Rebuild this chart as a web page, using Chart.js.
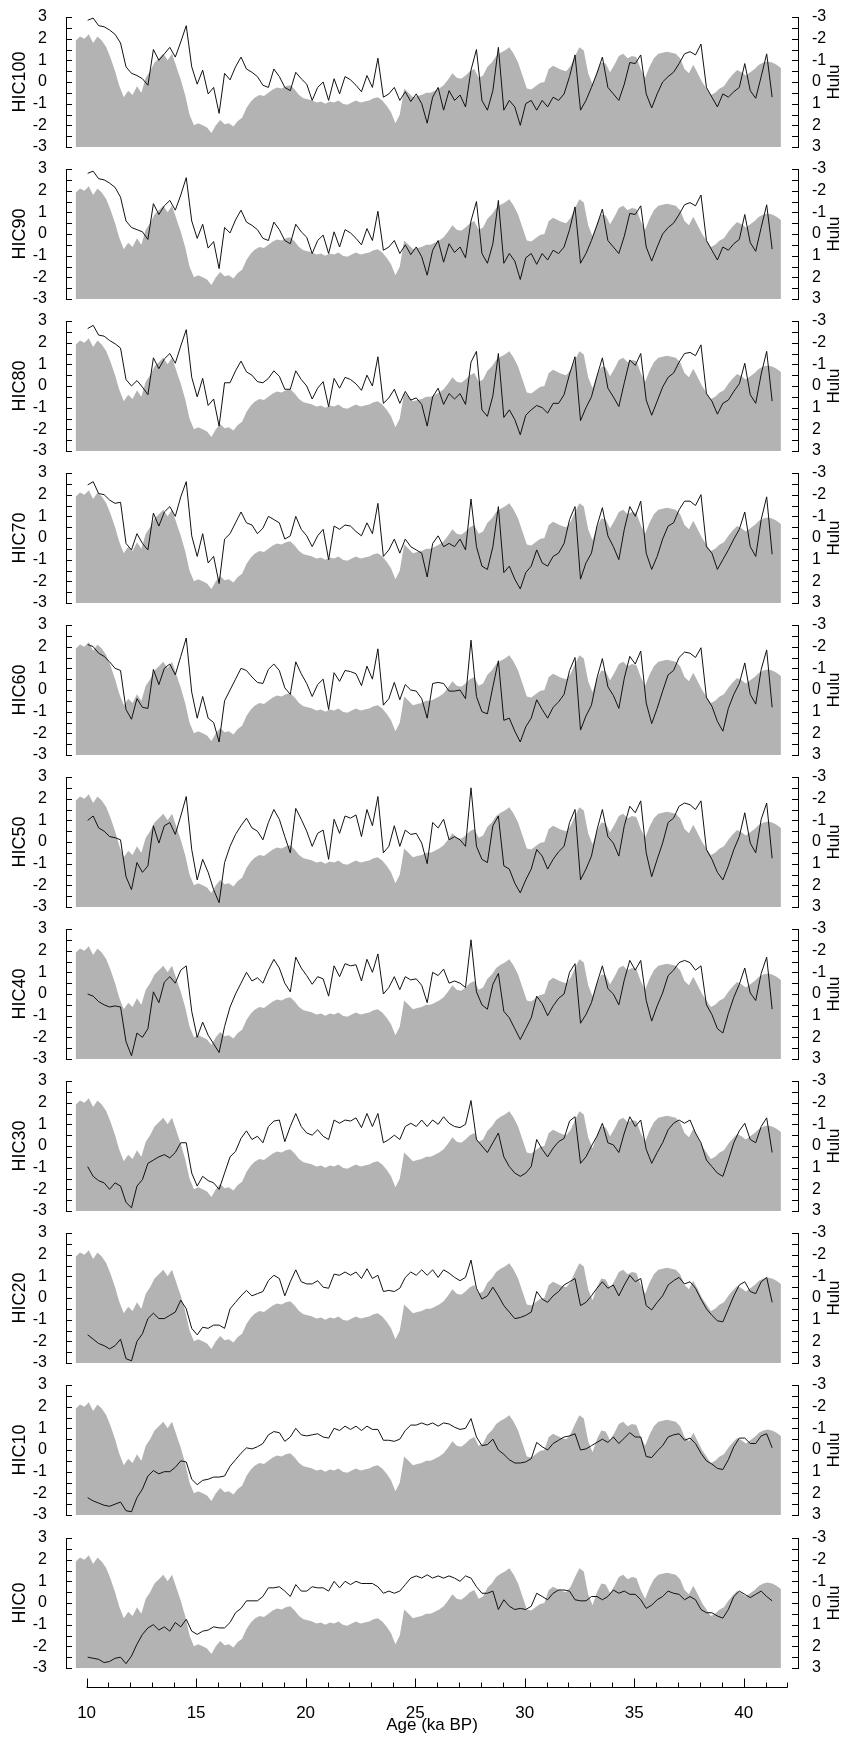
<!DOCTYPE html>
<html lang="en">
<head>
<meta charset="UTF-8" />
<title>HIC runs against Hulu</title>
<script src="https://cdn.jsdelivr.net/npm/chart.js"></script>
<style>
  body { margin: 0; background: #fff; }
  #panels { position: relative; width: 844px; height: 1738px; }
  #panels canvas { position: absolute; left: 0; }
</style>
</head>
<body>
<div id="panels"></div>
<script>
// Hulu record (right axis, reversed), one value every 0.2 ka from 9.5 ka
const huluStart = 9.5, huluStep = 0.2;
const hulu = [
  -1.9, -2.1, -2.0, -2.2, -1.8, -2.1, -1.9, -1.6, -1.1, -0.5,
  0.2, 0.7, 0.4, 0.6, 0.2, 0.5, -0.2, -0.5, -0.9, -1.1,
  -1.3, -1.0, -1.3, -0.7, -0.1, 0.6, 1.5, 2.0, 1.9, 2.0,
  2.1, 2.35, 2.0, 1.75, 1.95, 1.9, 2.05, 1.8, 1.65, 1.2,
  0.9, 0.7, 0.6, 0.65, 0.5, 0.35, 0.25, 0.3, 0.2, 0.15,
  0.35, 0.6, 0.75, 0.8, 0.85, 0.95, 0.9, 1.0, 0.9, 0.95,
  0.85, 1.0, 1.05, 0.95, 0.85, 0.95, 0.9, 0.85, 0.75, 0.7,
  0.85, 1.1, 1.4, 1.9, 1.5, 0.3, 0.5, 0.7, 0.65, 0.6,
  0.5, 0.5, 0.4, 0.3, 0.15, -0.1, -0.4, -0.2, -0.15, -0.3,
  -0.5, -0.6, -0.2, -0.3, -0.7, -0.9, -1.2, -1.35, -1.45, -1.6,
  -1.3, -0.9, -0.3, 0.3, 0.35, 0.2, 0.05, 0, -0.6, -0.75,
  -0.65, -0.55, -0.5, -0.75, -1.2, -1.6, -1.45, -0.4, 0.1, -0.5,
  -0.9, -0.85, -0.45, -0.8, -1.2, -1.3, -1.1, -1.2, -1.15, -0.6,
  -0.2, -0.7, -1.1, -1.3, -1.35, -1.4, -1.35, -1.3, -1.1, -0.6,
  -0.4, -0.8, -0.4, 0, 0.3, 0.6, 0.5, 0.3, 0.2, -0.1,
  -0.35, -0.55, -0.45, -0.3, -0.45, -0.6, -0.8, -0.9, -0.95, -0.9,
  -0.8, -0.65
];

// HIC runs (left axis), one value every 0.25 ka from 10.05 ka
const hicStart = 10.05, hicStep = 0.25;
const hic100 = [
  2.85, 2.95, 2.6, 2.55,   2.4, 2.2, 1.8, 0.7,   0.4, 0.3, 0.15, -0.15,
  1.5, 1.0, 1.3, 1.6,      1.15, 1.85, 2.6, 0.7, -0.1, 0.55, -0.55, -0.25,
  -1.45, 0.4, 0.1, 0.7,    1.15, 0.6, 0.45, 0.25, -0.15, -0.25, 0.6, 0.25,
  -0.25, -0.4, 0.45, 0.15, -0.1, -0.85, -0.25, 0, -0.85, 0.15, -0.55, 0.25,
  0.1, -0.15, -0.45, 0.3,  -0.25, 1.1, -0.7, -0.55, -0.25, -0.85, -0.45, -0.9,
  -0.55, -1.0, -1.9, -0.7, -0.25, -1.3, -0.4, -0.85, -0.6, -1.15, 0.55, 1.5,
  -0.85, -1.3, -0.4, 1.6, -1.3, -0.85, -1.15, -2.0, -1.0, -0.85, -1.3, -0.85,
  -1.15, -0.7, -0.85, -0.55, 0.25, 1.25, -1.3, -0.85, -0.25, 0.4, 1.15, -0.25,
  -0.55, -0.85, -0.1, 0.9, 0.85, 1.25, -0.55, -1.2, -0.55, 0, 0.25, 0.45,
  0.85, 1.3, 1.4, 1.25,    1.75, -0.25, -0.7, -1.15, -0.55, -0.7, -0.45, -0.25,
  0.85, -0.4, -0.75, 0.25, 1.3, -0.7
];
const hic90 = [
  2.8, 2.9, 2.55, 2.5,     2.35, 2.15, 1.7, 0.6,  0.3, 0.2, 0.1, -0.25,
  1.4, 0.9, 1.3, 1.55,     1.1, 1.8, 2.6, 0.6,    -0.2, 0.45, -0.65, -0.35,
  -1.6, 0.3, 0.05, 0.65,   1.1, 0.55, 0.4, 0.2,   -0.2, -0.3, 0.55, 0.2,
  -0.3, -0.45, 0.45, 0.1,  -0.15, -0.9, -0.3, -0.05, -0.9, 0.1, -0.6, 0.2,
  0.05, -0.2, -0.5, 0.25,  -0.3, 1.05, -0.75, -0.6, -0.3, -0.9, -0.5, -0.95,
  -0.6, -1.05, -1.9, -0.75, -0.3, -1.3, -0.45, -0.85, -0.6, -1.1, 0.6, 1.5,
  -0.9, -1.35, -0.45, 1.55, -1.35, -0.9, -1.25, -2.1, -1.1, -0.9, -1.4, -0.9,
  -1.2, -0.75, -0.9, -0.6, 0.2, 1.25, -1.35, -0.9, -0.3, 0.4, 1.15, -0.3,
  -0.6, -0.9, -0.1, 0.95, 0.9, 1.3, -0.6, -1.25,  -0.6, 0, 0.3, 0.5,
  0.9, 1.35, 1.45, 1.3,    1.8, -0.3, -0.75, -1.2, -0.6, -0.75, -0.45, -0.25,
  0.9, -0.4, -0.8, 0.3,    1.35, -0.7
];
const hic80 = [
  2.65, 2.8, 2.35, 2.3,    2.1, 1.95, 1.75, 0.3,  0, 0.25, -0.05, -0.4,
  1.3, 0.8, 1.25, 1.5,     1.05, 1.85, 2.6, 0.4,  -0.5, 0.35, -0.9, -0.6,
  -1.85, 0.15, 0.15, 0.7,  1.15, 0.65, 0.5, 0.2,  0.15, 0.35, 0.7, 0.45,
  -0.15, -0.15, 0.7, 0.3,  0, -0.6, -0.1, 0.2,    -0.95, 0.35, -0.1, 0.4,
  0.3, 0.1, -0.2, 0.5,     0, 1.35, -0.8, -0.55,  -0.15, -0.8, -0.25, -0.65,
  -0.55, -0.85, -1.85, -0.5, -0.1, -0.85, -0.35, -0.6, -0.35, -0.85, 1.1, 1.6,
  -1.1, -1.4, -0.45, 1.5,  -1.45, -1.1, -1.55, -2.25, -1.35, -1.1, -0.9, -1.0,
  -1.25, -0.8, -0.8, -0.4, 0.55, 1.35, -1.6, -1.0, -0.5, 0.45, 1.3, -0.1,
  -0.5, -0.95, 0.15, 1.2,  0.95, 1.5, -0.65, -1.35, -0.7, -0.05, 0.4, 0.6,
  1.1, 1.5, 1.55, 1.4,     1.9, -0.35, -0.7, -1.3, -0.8, -0.65, -0.25, 0.1,
  1.05, -0.4, -0.8, 0.55,  1.6, -0.7
];
const hic70 = [
  2.45, 2.6, 2.05, 2.0,    1.75, 1.6, 1.65, -0.25, -0.55, 0.2, -0.25, -0.55,
  1.15, 0.55, 1.2, 1.45,   1.0, 1.9, 2.6, 0.1,    -0.85, 0.2, -1.15, -0.85,
  -2.1, -0.05, 0.2, 0.7,   1.2, 0.7, 0.6, 0.2,    0.45, 1.0, 0.85, 0.7,
  -0.05, 0.1, 1.0, 0.4,    0.1, -0.4, 0.1, 0.4,   -1.0, 0.55, 0.4, 0.6,
  0.55, 0.3, 0.1, 0.7,     0.2, 1.6, -0.85, -0.55, -0.05, -0.7, -0.05, -0.4,
  -0.55, -0.7, -1.8, -0.25, 0.1, -0.4, -0.25, -0.4, -0.05, -0.55, 1.8, -0.4,
  -1.3, -1.45, -0.4, 1.45, -1.6, -1.3, -1.9, -2.35, -1.6, -1.3, -0.55, -1.15,
  -1.3, -0.85, -0.7, -0.25, 0.85, 1.45, -1.9, -1.15, -0.7, 0.55, 1.4, 0.1,
  -0.4, -1.0, 0.4, 1.45,   1.0, 1.7, -0.7, -1.45, -0.85, -0.05, 0.55, 0.7,
  1.3, 1.7, 1.7, 1.5,      2.0, -0.4, -0.7, -1.45, -1.0, -0.55, -0.05, 0.4,
  1.2, -0.4, -0.85, 0.85,  1.9, -0.75
];
const hic60 = [
  2.1, 2.0, 1.7, 1.55,     1.3, 1.0, 0.9, -0.9,   -1.35, -0.4, -0.8, -0.85,
  0.95, 0.25, 1.0, 1.2,    0.7, 1.55, 2.4, -0.1,  -1.3, -0.3, -1.3, -1.5,
  -2.4, -0.5, 0, 0.5,      1.0, 0.9, 0.6, 0.35,   0.3, 0.95, 1.2, 0.9,
  0.1, -0.2, 1.3, 0.75,    0.3, -0.3, 0.25, 0.5,  -0.9, 0.8, 0.4, 0.9,
  0.85, 0.75, 0.2, 1.1,    0.5, 1.9, -0.7, -0.4,  0.35, -0.45, 0.25, 0,
  -0.05, -0.4, -1.3, 0.3,  0.35, 0.3, -0.05, -0.05, 0, -0.4, 2.3, -0.3,
  -1.0, -1.1, 0.15, 1.35,  -1.4, -1.3, -1.9, -2.4, -1.7, -1.3, -0.45, -0.9,
  -1.3, -0.8, -0.55, -0.2, 0.9, 1.5, -1.85, -1.2, -0.7, 0.55, 1.45, 0.15,
  -0.25, -0.85, 0.55, 1.55, 1.2, 1.8, -0.6, -1.55, -0.85, -0.05, 0.7, 0.9,
  1.5, 1.75, 1.7, 1.5,     1.95, -0.35, -0.75, -1.45, -1.9, -0.85, -0.2, 0.3,
  1.25, -0.2, -0.65, 0.95, 1.85, -0.8
];
const hic50 = [
  1.0, 1.2, 0.65, 0.5,     0.25, 0.2, 0.1, -1.6,  -2.2, -0.95, -1.4, -1.1,
  0.75, -0.05, 0.75, 0.9,  0.35, 1.2, 2.1, -0.35, -1.75, -0.8, -1.4, -2.2,
  -2.8, -0.95, -0.2, 0.35, 0.75, 1.1, 0.65, 0.5,  0.1, 0.9, 1.5, 1.05,
  0.25, -0.5, 1.55, 1.05,  0.5, -0.2, 0.4, 0.55,  -0.8, 1.05, 0.4, 1.2,
  1.1, 1.25, 0.25, 1.5,    0.75, 2.1, -0.5, -0.2, 0.75, -0.2, 0.55, 0.35,
  0.4, -0.05, -1.0, 0.9,   0.65, 1.05, 0.1, 0.25, 0.1, -0.2, 2.5, -0.2,
  -0.8, -0.95, 0.75, 1.2,  -1.1, -1.25, -1.9, -2.35, -1.75, -1.25, -0.35, -0.65,
  -1.25, -0.8, -0.45, -0.2, 0.9, 1.5, -1.75, -1.25, -0.65, 0.55, 1.5, 0.25,
  -0.05, -0.65, 0.75, 1.65, 1.35, 1.9, -0.5, -1.6, -0.8, -0.05, 0.9, 1.1,
  1.65, 1.8, 1.72, 1.5,    1.9, -0.35, -0.8, -1.4, -1.75, -1.1, -0.35, 0.25,
  1.35, -0.05, -0.5, 1.05, 1.8, -0.75
];
const hic40 = [
  0, -0.1, -0.35, -0.5,    -0.6, -0.55, -0.6, -2.2, -2.85, -1.8, -2.0, -1.6,
  0.1, -0.4, 0.55, 0.8,    0.5, 1.1, 1.3, -0.8,   -2.0, -1.3, -1.9, -2.3,
  -2.7, -1.5, -0.6, 0,     0.5, 1.0, 0.6, 0.75,   0.5, 1.1, 1.6, 1.2,
  0.5, 0.1, 1.7, 1.2,      0.85, 0.45, 0.8, 0.7,  -0.1, 1.3, 0.8, 1.4,
  1.3, 1.35, 0.6, 1.6,     1.0, 1.85, 0, 0.3,     0.8, 0.2, 0.8, 0.65,
  0.7, 0.4, -0.4, 1.0,     0.85, 1.15, 0.5, 0.6,  0.5, 0.3, 2.5, 0.1,
  -0.5, -0.7, 0.45, 0.95,  -0.8, -1.1, -1.6, -2.1, -1.6, -1.1, -0.1, -0.45,
  -1.0, -0.55, -0.2, 0,    1.0, 1.4, -1.35, -0.95, -0.4, 0.5, 1.3, 0.25,
  0, -0.5, 0.65, 1.55,     1.1, 1.55, -0.3, -1.25, -0.55, 0.05, 0.85, 1.1,
  1.45, 1.55, 1.45, 1.1,   1.3, -0.5, -0.95, -1.6, -1.8, -0.9, -0.15, 0.45,
  1.2, 0.05, -0.3, 0.95,   1.7, -0.7
];
const hic30 = [
  -0.95, -1.4, -1.6, -1.7, -2.0, -1.7, -1.85, -2.6, -2.85, -1.85, -1.55, -0.8,
  -0.65, -0.5, -0.4, -0.55, -0.3, 0.15, 0.15, -1.25, -1.85, -1.4, -1.6, -1.7,
  -2.0, -1.25, -0.5, -0.25, 0.35, 0.7, 0.3, 0.45, 0.15, 0.9, 1.15, 1.2,
  0.2, 0.9, 1.5, 0.9,      0.6, 0.5, 0.75, 0.45,  0.3, 1.2, 1.05, 1.2,
  1.15, 1.3, 0.85, 1.5,    0.9, 1.5, 0.15, 0.3,   0.5, 0.3, 0.9, 1.05,
  0.9, 1.2, 0.9, 1.2,      1.0, 1.35, 1.05, 0.9,  0.85, 1.0, 2.1, 0.3,
  0, -0.3, 0.15, 0.6,      -0.5, -0.95, -1.25, -1.4, -1.25, -0.95, 0.3, -0.15,
  -0.5, -0.1, 0.2, 0.35,   1.15, 1.35, -0.8, -0.5, 0, 0.45, 1.05, 0.15,
  0.05, -0.3, 0.6, 1.35,   0.9, 1.2, -0.15, -0.8, -0.3, 0.15, 0.75, 1.05,
  1.2, 1.05, 1.2, 0.6,     0.15, -0.65, -0.95, -1.25, -1.4, -0.65, 0.15, 0.7,
  1.05, 0.3, 0.15, 0.9,    1.3, -0.3
];
const hic20 = [
  -1.7, -1.9, -2.1, -2.2,  -2.35, -2.2, -1.9, -2.8, -2.9, -2.0, -1.65, -0.95,
  -0.7, -0.95, -0.95, -0.8, -0.65, -0.1, -0.5, -1.4, -1.7, -1.35, -1.4, -1.25,
  -1.25, -1.4, -0.5, -0.2, 0.1, 0.35, 0.1, 0.2,   0.3, 0.8, 1.05, 0.9,
  0.1, 0.75, 1.3, 0.75,    0.65, 0.65, 0.8, 0.5,  0.45, 1.1, 1.05, 1.2,
  1.05, 1.2, 0.9, 1.35,    0.9, 1.05, 0.3, 0.35,  0.3, 0.45, 0.95, 1.2,
  1.05, 1.3, 1.05, 1.3,    0.95, 1.3, 1.15, 0.95, 0.8, 0.95, 1.75, 0.45,
  -0.05, 0.1, 0.5, 0.1,    -0.35, -0.65, -0.95, -0.9, -0.8, -0.65, 0.3, -0.05,
  -0.2, 0.1, 0.3, 0.6,     0.75, 0.9, -0.35, -0.2, 0.1, 0.45, 0.75, 0.45,
  0.6, 0.1, 0.6, 1.05,     0.75, 0.9, -0.35, -0.55, -0.2, 0.1, 0.6, 0.8,
  0.95, 0.65, 0.75, 0.45,  -0.05, -0.5, -0.8, -1.05, -1.1, -0.5, 0.1, 0.6,
  0.75, 0.3, 0.2, 0.75,    0.95, -0.2
];
const hic10 = [
  -2.2, -2.35, -2.45, -2.55, -2.6, -2.5, -2.4, -2.8, -2.85, -2.2, -1.8, -1.2,
  -0.95, -1.1, -1.0, -1.0, -0.8, -0.5, -0.55, -1.35, -1.6, -1.4, -1.35, -1.25,
  -1.25, -1.2, -0.75, -0.45, -0.15, 0.1, 0.05, 0.15, 0.3, 0.7, 0.85, 0.8,
  0.4, 0.6, 1.0, 0.7,      0.65, 0.7, 0.75, 0.6,  0.55, 1.0, 0.9, 1.1,
  0.95, 1.1, 0.9, 1.1,     0.95, 0.95, 0.45, 0.45, 0.4, 0.5, 0.9, 1.15,
  1.15, 1.25, 1.15, 1.25,  1.1, 1.25, 1.2, 1.05,  0.95, 1.0, 1.45, 0.6,
  0.2, 0.25, 0.5, 0,       -0.2, -0.45, -0.6, -0.6, -0.55, -0.4, 0.35, 0.15,
  0, 0.3, 0.45, 0.6,       0.65, 0.75, 0, 0.05,   0.2, 0.35, 0.5, 0.35,
  0.6, 0.3, 0.55, 0.8,     0.6, 0.6, -0.3, -0.35, -0.05, 0.2, 0.6, 0.7,
  0.75, 0.45, 0.55, 0.3,   -0.15, -0.5, -0.65, -0.85, -0.9, -0.45, 0.15, 0.55,
  0.55, 0.3, 0.3, 0.65,    0.75, 0.1
];
const hic0 = [
  -2.5, -2.55, -2.6, -2.75, -2.7, -2.55, -2.5, -2.8, -2.45, -1.9, -1.45, -1.15,
  -1.0, -1.25, -1.1, -1.3, -0.9, -1.1, -0.75, -1.3, -1.45, -1.3, -1.25, -1.1,
  -1.15, -1.15, -0.9, -0.45, -0.25, 0.1, 0.1, 0.1, 0.3, 0.7, 0.7, 0.75,
  0.55, 0.3, 0.85, 0.55,   0.55, 0.75, 0.7, 0.7,  0.55, 1.0, 0.7, 1.0,
  0.85, 1.0, 0.9, 0.9,     0.9, 0.75, 0.45, 0.55, 0.45, 0.55, 0.85, 1.15,
  1.25, 1.15, 1.3, 1.15,   1.25, 1.15, 1.25, 1.15, 1.0, 1.25, 1.15, 0.75,
  0.45, 0.45, 0.55, -0.3,  0.15, -0.15, -0.3, -0.25, -0.3, -0.15, 0.45, 0.3,
  0.15, 0.45, 0.6, 0.6,    0.55, 0.15, 0.1, 0.1,  0.3, 0.3, 0.15, 0.3,
  0.6, 0.45, 0.55, 0.4,    0.4, 0.15, -0.25, -0.1, 0.15, 0.3, 0.55, 0.45,
  0.4, 0.15, 0.3, 0.15,    -0.3, -0.45, -0.45, -0.6, -0.7, -0.3, 0.3, 0.55,
  0.4, 0.25, 0.4, 0.55,    0.3, 0.1
];

const panelNames = ['HIC100', 'HIC90', 'HIC80', 'HIC70', 'HIC60', 'HIC50',
                    'HIC40', 'HIC30', 'HIC20', 'HIC10', 'HIC0'];
const panelSeries = [hic100, hic90, hic80, hic70, hic60, hic50,
                     hic40, hic30, hic20, hic10, hic0];
const rightTitle = 'Hulu';

const valueTicks = [-3, -2, -1, 0, 1, 2, 3];
const valueMarkStep = 0.5;
const ageLabels = [10, 15, 20, 25, 30, 35, 40];
const ageAxisFrom = 10, ageAxisTo = 42;

const FONT = 'Liberation Sans, Arial, sans-serif';
const INK = '#000';
const SHADE = '#b3b3b3';

// tick marks that point into the gap between the axis line and the data,
// the right-hand title (read bottom to top, like the left one),
// and the detached age axis under the last panel
const axisMarks = {
  id: 'axisMarks',
  afterDraw(chart) {
    const ctx = chart.ctx;
    const area = chart.chartArea;
    const yl = chart.scales.y, yr = chart.scales.yr, xs = chart.scales.x;
    ctx.save();
    ctx.strokeStyle = INK;
    ctx.lineWidth = 1;
    ctx.beginPath();
    for (let v = yl.min; v <= yl.max + 1e-9; v += valueMarkStep) {
      const py = Math.round(yl.getPixelForValue(v)) + 0.5;
      ctx.moveTo(area.left, py);
      ctx.lineTo(area.left + 6, py);
      const pr = Math.round(yr.getPixelForValue(v)) + 0.5;
      ctx.moveTo(area.right, pr);
      ctx.lineTo(area.right - 6, pr);
    }
    ctx.stroke();

    ctx.save();
    ctx.translate(yr.right - 10, (area.top + area.bottom) / 2);
    ctx.rotate(-Math.PI / 2);
    ctx.fillStyle = INK;
    ctx.font = '17px ' + FONT;
    ctx.textAlign = 'center';
    ctx.textBaseline = 'middle';
    ctx.fillText(rightTitle, 0, 0);
    ctx.restore();

    if (chart.options.plugins.axisMarks.ageAxis) {
      const base = Math.round(area.bottom + 19) + 0.5;
      const x0 = xs.getPixelForValue(ageAxisFrom);
      const x1 = xs.getPixelForValue(ageAxisTo);
      ctx.beginPath();
      ctx.moveTo(x0, base);
      ctx.lineTo(x1, base);
      for (let a = ageAxisFrom; a <= ageAxisTo; a++) {
        const px = Math.round(xs.getPixelForValue(a)) + 0.5;
        ctx.moveTo(px, base);
        ctx.lineTo(px, base - (a % 5 === 0 ? 9 : 5));
      }
      ctx.stroke();
    }
    ctx.restore();
  }
};

const host = document.getElementById('panels');
const pitch = 152.1, firstTop = 16.6, plotHeight = 130, pad = 11;

panelSeries.forEach((series, k) => {
  const last = k === panelSeries.length - 1;
  const plotTop = Math.round(firstTop + k * pitch);
  const top = plotTop - pad;
  const height = last ? 1738 - top : plotHeight + 2 * pad;

  const canvas = document.createElement('canvas');
  canvas.width = 844;
  canvas.height = height;
  canvas.style.top = top + 'px';
  host.appendChild(canvas);

  new Chart(canvas.getContext('2d'), {
    type: 'line',
    data: {
      datasets: [
        {
          label: panelNames[k],
          data: series.map((v, i) => ({ x: hicStart + i * hicStep, y: v })),
          yAxisID: 'y',
          borderColor: '#111',
          borderWidth: 1,
          pointRadius: 0,
          fill: false
        },
        {
          label: rightTitle,
          data: hulu.map((v, i) => ({ x: huluStart + i * huluStep, y: v })),
          yAxisID: 'yr',
          borderWidth: 0,
          borderColor: SHADE,
          backgroundColor: SHADE,
          pointRadius: 0,
          fill: { value: 3 }
        }
      ]
    },
    options: {
      responsive: false,
      animation: false,
      devicePixelRatio: 1,
      layout: { padding: { top: pad, bottom: last ? 0 : pad, left: 0, right: 0 } },
      plugins: {
        legend: { display: false },
        tooltip: { enabled: false },
        axisMarks: { ageAxis: last }
      },
      scales: {
        x: {
          type: 'linear',
          min: 9.06,
          max: 42.48,
          display: last,
          grid: { display: false },
          border: { display: false },
          ticks: { color: INK, font: { family: FONT, size: 17 }, padding: 27, maxRotation: 0 },
          afterBuildTicks: s => { s.ticks = ageLabels.map(v => ({ value: v })); },
          afterFit: s => { s.height = last ? 70 : 0; s.paddingLeft = 0; s.paddingRight = 0; },
          title: {
            display: true,
            text: 'Age (ka BP)',
            color: INK,
            font: { family: FONT, size: 17 },
            padding: { top: 0, bottom: 2 }
          }
        },
        y: {
          position: 'left',
          min: -3,
          max: 3,
          grid: { display: false },
          border: { display: true, color: INK, width: 1 },
          ticks: { color: INK, font: { family: FONT, size: 16 }, padding: 11, autoSkip: false },
          afterBuildTicks: s => { s.ticks = valueTicks.map(v => ({ value: v })); },
          afterFit: s => { s.width = 66; s.paddingTop = 0; s.paddingBottom = 0; },
          title: {
            display: true,
            text: panelNames[k],
            color: INK,
            font: { family: FONT, size: 18 },
            padding: { top: 9, bottom: 0 }
          }
        },
        yr: {
          position: 'right',
          reverse: true,
          min: -3,
          max: 3,
          grid: { display: false },
          border: { display: true, color: INK, width: 1 },
          ticks: { color: INK, font: { family: FONT, size: 16 }, padding: 6, autoSkip: false },
          afterBuildTicks: s => { s.ticks = valueTicks.map(v => ({ value: v })); },
          afterFit: s => { s.width = 46; s.paddingTop = 0; s.paddingBottom = 0; }
        }
      }
    },
    plugins: [axisMarks]
  });
});
</script>
</body>
</html>
